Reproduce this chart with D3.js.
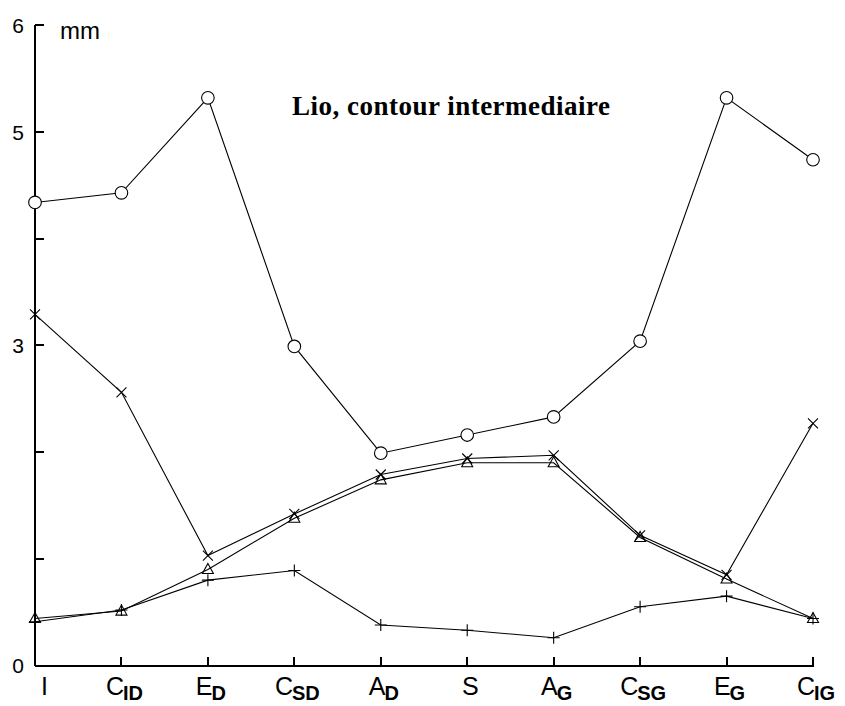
<!DOCTYPE html>
<html>
<head>
<meta charset="utf-8">
<script src="https://cdn.jsdelivr.net/npm/d3@7/dist/d3.min.js"></script>
<style>
  html, body { margin: 0; padding: 0; background: #fff; }
  svg { display: block; }
</style>
</head>
<body>
<svg id="chart" width="845" height="706"></svg>
<script>
// Measurement points along the contour: main letter + subscript
const categories = ["I", "CID", "ED", "CSD", "AD", "S", "AG", "CSG", "EG", "CIG"];
const labelMain = ["I", "C", "E", "C", "A", "S", "A", "C", "E", "C"];
const labelSub  = ["", "ID", "D", "SD", "D", "", "G", "SG", "G", "IG"];

// Values in mm, one array per series (marker shape)
const circleSeries   = [4.34, 4.43, 5.32, 2.99, 1.99, 2.16, 2.33, 3.04, 5.32, 4.74];
const crossSeries    = [3.29, 2.56, 1.03, 1.42, 1.79, 1.94, 1.97, 1.22, 0.85, 2.27];
const triangleSeries = [0.44, 0.51, 0.90, 1.38, 1.74, 1.90, 1.90, 1.20, 0.81, 0.44];
const plusSeries     = [0.41, 0.52, 0.80, 0.89, 0.38, 0.33, 0.26, 0.55, 0.65, 0.44];

const yTicks = [0, 3, 5, 6];
const yTickMarks = [1, 2, 3, 4, 5, 6];
const unitLabel = "mm";
const title = "Lio, contour intermediaire";

const svg = d3.select("#chart");
const plotLeft = 35, plotRight = 813, plotTop = 25.3, plotBottom = 665.5;

const x = d3.scalePoint().domain(categories).range([plotLeft, plotRight]);
const y = d3.scaleLinear().domain([0, 6]).range([plotBottom, plotTop]);

// Axes
const axisG = svg.append("g").attr("stroke", "#000").attr("stroke-width", 2)
  .attr("shape-rendering", "crispEdges");
axisG.append("line").attr("x1", plotLeft).attr("x2", plotLeft).attr("y1", y(6)).attr("y2", y(0));
axisG.append("line").attr("x1", plotLeft).attr("x2", plotRight + 1).attr("y1", y(0)).attr("y2", y(0));
axisG.selectAll(".yt").data(yTickMarks).join("line")
  .attr("x1", plotLeft).attr("x2", plotLeft + 9)
  .attr("y1", d => y(d)).attr("y2", d => y(d));
axisG.selectAll(".xt").data(categories.slice(1)).join("line")
  .attr("x1", d => x(d)).attr("x2", d => x(d))
  .attr("y1", y(0)).attr("y2", y(0) - 9);

// Y tick labels
svg.append("g").selectAll("text").data(yTicks).join("text")
  .attr("x", 24).attr("y", d => y(d))
  .attr("dy", "0.36em")
  .attr("text-anchor", "end")
  .attr("font-family", "Liberation Sans, Arial, sans-serif")
  .attr("font-size", 21)
  .text(d => d);

svg.append("text")
  .attr("x", 60).attr("y", 39)
  .attr("font-family", "Liberation Sans, Arial, sans-serif")
  .attr("font-size", 24)
  .text(unitLabel);

// X labels: main letter with a bold subscript
const xl = svg.append("g").selectAll("text").data(categories).join("text")
  .attr("y", 695)
  .attr("text-anchor", "middle")
  .attr("font-family", "Liberation Sans, Arial, sans-serif")
  .attr("font-size", 25);
xl.append("tspan").text((d, i) => labelMain[i]);
xl.append("tspan")
  .attr("font-size", 20).attr("font-weight", "bold")
  .attr("dy", 5).attr("dx", -1)
  .text((d, i) => labelSub[i]);
xl.each(function (d) {
  const w = this.getBBox().width;
  const cx = Math.max(x(d) + 3, plotLeft + w / 2 + 6);
  d3.select(this).attr("x", cx);
});

// Title
svg.append("text")
  .attr("x", 451).attr("y", 115)
  .attr("text-anchor", "middle")
  .attr("font-family", "Liberation Serif, Times New Roman, serif")
  .attr("font-weight", "bold")
  .attr("font-size", 27)
  .attr("textLength", 318)
  .attr("lengthAdjust", "spacing")
  .text(title);

// Series lines and markers
const line = d3.line().x((d, i) => x(categories[i])).y(d => y(d));
const series = [
  { values: circleSeries, marker: "circle" },
  { values: crossSeries, marker: "cross" },
  { values: triangleSeries, marker: "triangle" },
  { values: plusSeries, marker: "plus" }
];

const plot = svg.append("g").attr("fill", "none").attr("stroke", "#000").attr("stroke-width", 1.1);
series.forEach(s => {
  plot.append("path").attr("d", line(s.values));
  const pts = plot.append("g").selectAll("g").data(s.values).join("g")
    .attr("transform", (d, i) => `translate(${x(categories[i])},${y(d)})`);
  if (s.marker === "circle") {
    pts.append("circle").attr("r", 6.3).attr("fill", "#fff");
  } else if (s.marker === "cross") {
    pts.append("path").attr("d", "M-5,-5L5,5M-5,5L5,-5");
  } else if (s.marker === "triangle") {
    pts.append("path").attr("d", "M0,-6L5.5,4L-5.5,4Z");
  } else {
    pts.append("path").attr("d", "M-6,0L6,0M0,-6L0,6");
  }
});
</script>
</body>
</html>
